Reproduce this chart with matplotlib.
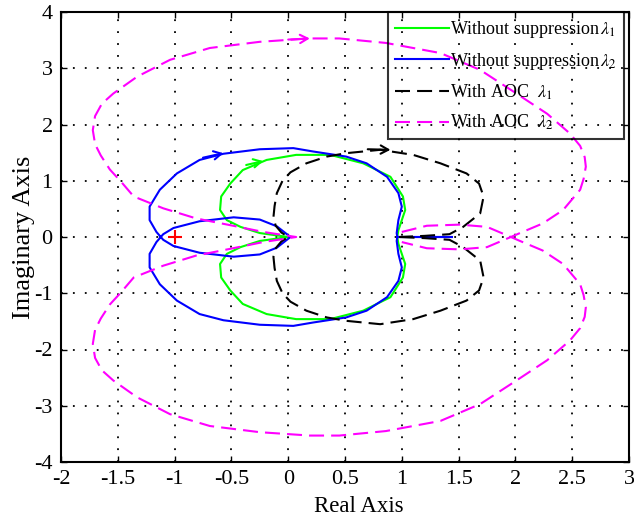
#se importan las librerias necesarias
import matplotlib
matplotlib.use("Agg")
import matplotlib.pyplot as plt
import numpy as np

plt.rcParams['font.family'] = ['Liberation Serif', 'DejaVu Serif']
plt.rcParams['mathtext.fontset'] = 'stix'
plt.rcParams['axes.unicode_minus'] = False

#rama superior (w>0) de cada curva de Nyquist, parte real e imaginaria
#sin supresion, lambda 1 (verde)
g_re = [0.0, -0.07, -0.25, -0.42, -0.54, -0.60, -0.59, -0.51, -0.40, -0.19,
        0.07, 0.37, 0.66, 0.90, 1.01, 1.03, 1.00, 0.97, 0.96]
g_im = [0.0, 0.02, 0.07, 0.18, 0.30, 0.48, 0.72, 0.95, 1.19, 1.37,
        1.46, 1.46, 1.31, 1.07, 0.72, 0.48, 0.30, 0.12, 0.0]
#sin supresion, lambda 2 (azul)
b_re = [0.02, -0.10, -0.25, -0.48, -0.78, -1.01, -1.10, -1.16, -1.22, -1.22,
        -1.13, -0.98, -0.78, -0.57, -0.25, 0.045, 0.22, 0.51, 0.69, 0.87,
        0.97, 1.00, 0.97, 0.955, 0.96, 1.44]
b_im = [0.0, -0.19, -0.31, -0.35, -0.28, -0.16, -0.05, 0.09, 0.30, 0.54,
        0.84, 1.13, 1.37, 1.48, 1.56, 1.58, 1.52, 1.43, 1.31, 1.07,
        0.78, 0.54, 0.30, 0.07, 0.0, 0.0]
#con AOC, lambda 1 (negro)
k_re = [0.0, -0.06, -0.11, -0.13, -0.12, -0.10, -0.05, 0.02, 0.16, 0.34,
        0.51, 0.81, 1.10, 1.34, 1.57, 1.68, 1.72, 1.69, 1.54, 1.42, 1.20, 0.98]
k_im = [0.0, 0.08, 0.20, 0.35, 0.55, 0.78, 1.00, 1.15, 1.31, 1.43,
        1.49, 1.55, 1.46, 1.31, 1.13, 0.95, 0.72, 0.42, 0.18, 0.05, 0.02, 0.0]
#con AOC, lambda 2 (magenta)
m_re = [0.07, -0.22, -0.51, -0.81, -1.10, -1.36, -1.47, -1.57, -1.65, -1.70,
        -1.72, -1.70, -1.64, -1.54, -1.33, -1.04, -0.69, -0.25, 0.19, 0.45,
        0.86, 1.34, 1.69, 2.01, 2.28, 2.48, 2.57, 2.61, 2.62, 2.60, 2.57,
        2.42, 2.24, 2.04, 1.96, 1.75, 1.51, 1.22, 1.00]
m_im = [0.0, 0.09, 0.21, 0.33, 0.51, 0.72, 0.98, 1.20, 1.45, 1.65,
        1.90, 2.15, 2.37, 2.55, 2.85, 3.15, 3.36, 3.47, 3.53, 3.53,
        3.45, 3.27, 2.97, 2.55, 2.19, 1.84, 1.62, 1.42, 1.25, 1.03, 0.84,
        0.48, 0.24, 0.07, 0.0, -0.18, -0.22, -0.20, -0.09]

#flechas de direccion: (desde, hasta)
g_arrow = ((-0.37, 1.28), (-0.22, 1.35))
b_arrow = ((-0.75, 1.41), (-0.57, 1.49))
k_arrow = ((0.70, 1.56), (0.90, 1.55))
m_arrow = ((0.00, 3.51), (0.19, 3.53))

labels = ['Without suppression$\\,\\lambda_1$',
          'Without suppression$\\,\\lambda_2$',
          'With AOC  $\\lambda_1$',
          'With AOC  $\\lambda_2$']

xticks = [-2, -1.5, -1, -0.5, 0, 0.5, 1, 1.5, 2, 2.5, 3]
xtick_labels = ['-2', '-1.5', '-1', '-0.5', '0', '0.5', '1', '1.5', '2', '2.5', '3']
yticks = [-4, -3, -2, -1, 0, 1, 2, 3, 4]
ytick_labels = ['-4', '-3', '-2', '-1', '0', '1', '2', '3', '4']


def cerrar(re, im):
    #se une la rama conjugada (w<0) con la rama w>0
    re = np.array(re)
    im = np.array(im)
    x = np.concatenate([re[::-1], re[1:]])
    y = np.concatenate([-im[::-1], im[1:]])
    return x, y


fig = plt.figure(figsize=(6.34, 5.28), dpi=100)
ax = fig.add_axes([61/634, 1-462/528, 568/634, 450/528])

dash = (0, (7.2, 3.4))
curvas = [(g_re, g_im, '#00ff00', '-', g_arrow),
          (b_re, b_im, '#0000ff', '-', b_arrow),
          (k_re, k_im, 'k', dash, k_arrow),
          (m_re, m_im, '#ff00ff', dash, m_arrow)]
for (re, im, c, ls, arr), lab in zip(curvas, labels):
    x, y = cerrar(re, im)
    ax.plot(x, y, color=c, linestyle=ls, linewidth=1.5, label=lab)
    ax.annotate('', xy=arr[1], xytext=arr[0],
                arrowprops=dict(arrowstyle='->,head_length=0.55,head_width=0.3',
                                color=c, lw=1.5, shrinkA=0, shrinkB=0),
                annotation_clip=False)

#punto critico -1
ax.plot([-1], [0], '+', color='r', markersize=10, markeredgewidth=1.5)

ax.set_xlim(-2, 3)
ax.set_ylim(-4, 4)
ax.set_xticks(xticks)
ax.set_xticklabels(xtick_labels)
ax.set_yticks(yticks)
ax.set_yticklabels(ytick_labels)
ax.tick_params(direction='in', top=True, right=True, length=4, width=1,
               labelsize=16, pad=6)
ax.grid(True, color='k', linestyle=(0, (1, 5.6)), linewidth=1.3)
for s in ax.spines.values():
    s.set_linewidth(1.5)

ax.set_xlabel('Real Axis', fontsize=16.5, va='center')
ax.xaxis.set_label_coords((358.5-61)/568, -(506-462)/450)
ax.set_ylabel('Imaginary Axis', fontsize=19, va='center')
ax.yaxis.set_label_coords((24-61)/568, 0.5)

leg = ax.legend(loc='upper left', bbox_to_anchor=(388/634, 1-11.7/528),
                bbox_transform=fig.transFigure, borderaxespad=0,
                fontsize=13, handlelength=3.0, handletextpad=0.05,
                borderpad=0.4, labelspacing=0.6, fancybox=False,
                edgecolor='k', facecolor='none', framealpha=None)
leg.get_frame().set_linewidth(1.5)

fig.savefig('out.png', dpi=100)
